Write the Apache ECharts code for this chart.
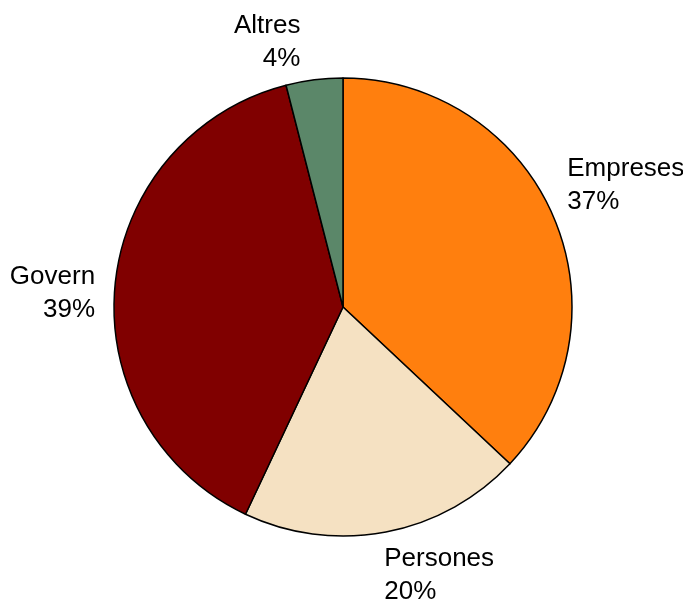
<!DOCTYPE html>
<html>
<head>
<meta charset="utf-8">
<script src="https://cdn.jsdelivr.net/npm/echarts@6/dist/echarts.min.js"></script>
<style>html,body{margin:0;padding:0;background:#fff;}#c{width:683px;height:601px;}</style>
</head>
<body>
<div id="c"></div>
<script>
var categories = ['Empreses', 'Persones', 'Govern', 'Altres'];
var values = [37, 20, 39, 4];
var colors = ['#ff7f0e', '#f5e1c2', '#800000', '#5b8769'];

// label nudges (style only)
var labelNudge = {
  'Empreses': [-7, -22],
  'Persones': [-6, 21],
  'Govern': [3, 10],
  'Altres': [-11, -15]
};

var chart = echarts.init(document.getElementById('c'), null, {renderer: 'canvas'});
var data = categories.map(function (c, i) {
  return {name: c, value: values[i], itemStyle: {color: colors[i]}, label: {offset: labelNudge[c]}};
});
chart.setOption({
  backgroundColor: '#ffffff',
  animation: false,
  series: [{
    type: 'pie',
    center: [343, 307],
    radius: 229,
    startAngle: 90,
    clockwise: true,
    avoidLabelOverlap: false,
    data: data,
    itemStyle: {borderColor: '#000', borderWidth: 1.5},
    emphasis: {disabled: true},
    label: {
      show: true,
      position: 'outside',
      formatter: '{b}\n{d}%',
      fontFamily: 'Liberation Sans, Arial, sans-serif',
      fontSize: 26,
      lineHeight: 33,
      color: '#000',
      distanceToLabelLine: 0
    },
    labelLine: {show: false, length: 23, length2: 0}
  }]
});
</script>
</body>
</html>
